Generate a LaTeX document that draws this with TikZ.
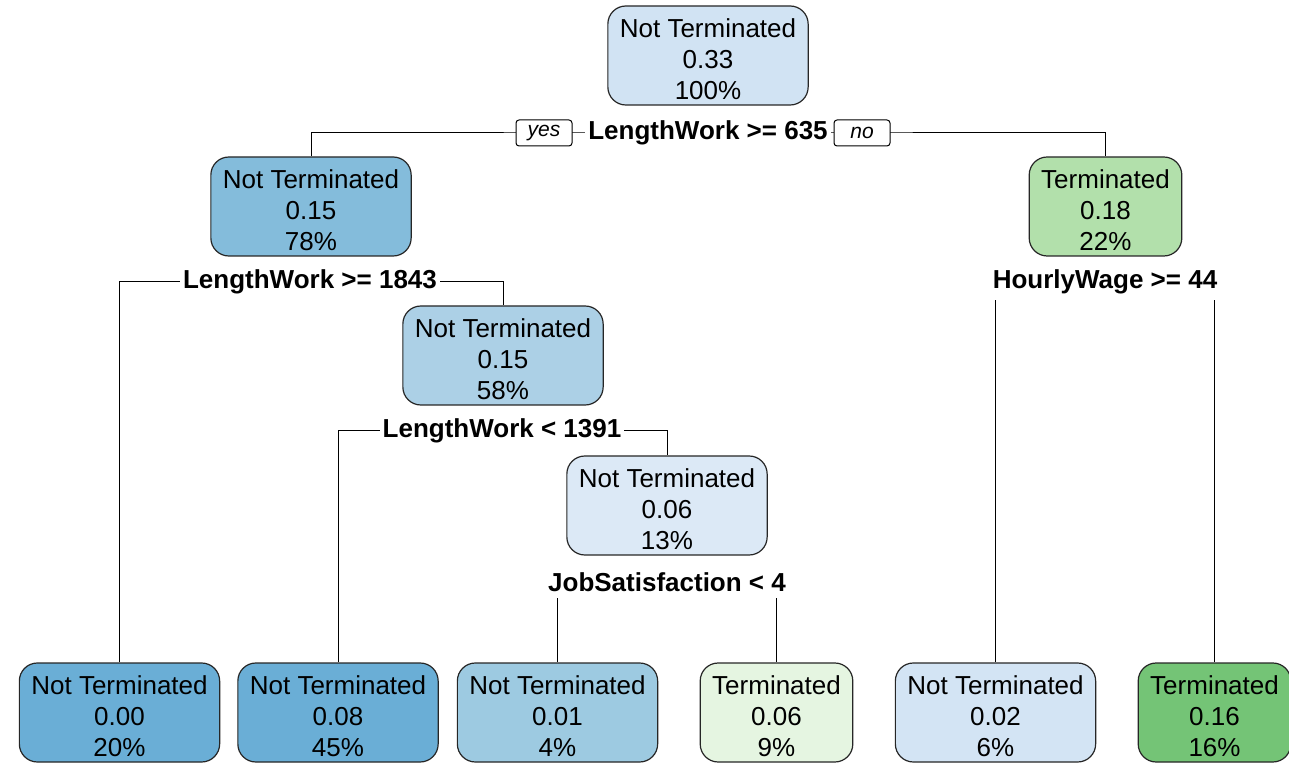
\documentclass[tikz,border=0pt]{standalone}
\usepackage{fontspec}
\setmainfont{Liberation Sans}
\usetikzlibrary{backgrounds}
\definecolor{rootblue}{HTML}{D1E3F3}
\definecolor{midblue}{HTML}{84BCDB}
\definecolor{softblue}{HTML}{ACD0E6}
\definecolor{paleblue}{HTML}{DCE9F6}
\definecolor{deepblue}{HTML}{6AAED6}
\definecolor{skyblue}{HTML}{9DCAE1}
\definecolor{lightblue}{HTML}{D3E4F4}
\definecolor{lightgreen}{HTML}{B2E0AB}
\definecolor{palegreen}{HTML}{E5F5E1}
\definecolor{deepgreen}{HTML}{74C476}

\tikzset{
	tnode/.style={draw=black!85, line width=0.6pt, rounded corners=9pt, align=center,
		inner xsep=6pt, inner ysep=0pt, minimum height=49.5pt, font=\fontsize{13}{15.5}\selectfont,
		execute at begin node={\rule{0pt}{44pt}}},
	splitlab/.style={fill=white, inner xsep=1.5pt, inner ysep=3pt,
		font=\fontsize{13}{15.5}\selectfont\bfseries},
	yesno/.style={draw, line width=0.5pt, rounded corners=1.5pt, fill=white, minimum width=28pt,
		minimum height=13pt, inner sep=0pt, font=\fontsize{10.5}{12}\selectfont\itshape},
}

\begin{document}
\begin{tikzpicture}[x=0.5pt, y=-0.5pt]
	\useasboundingbox (0,0) rectangle (1289,763);
	\clip (0,0) rectangle (1289,763);
	% tree nodes
	\node[tnode, fill=rootblue] (n1) at (708,55.5) {Not Terminated\\0.33\\100\%};
	\node[tnode, fill=midblue] (n2) at (311,206.5) {Not Terminated\\0.15\\78\%};
	\node[tnode, fill=lightgreen] (n3) at (1105.5,206.5) {Terminated\\0.18\\22\%};
	\node[tnode, fill=softblue] (n5) at (503,355.5) {Not Terminated\\0.15\\58\%};
	\node[tnode, fill=paleblue] (n11) at (667,505.5) {Not Terminated\\0.06\\13\%};
	% leaves
	\node[tnode, fill=deepblue] (n4) at (119.5,712.5) {Not Terminated\\0.00\\20\%};
	\node[tnode, fill=deepblue] (n10) at (338,712.5) {Not Terminated\\0.08\\45\%};
	\node[tnode, fill=skyblue] (n22) at (557.5,712.5) {Not Terminated\\0.01\\4\%};
	\node[tnode, fill=palegreen] (n23) at (776.5,712.5) {Terminated\\0.06\\9\%};
	\node[tnode, fill=lightblue] (n6) at (995.5,712.5) {Not Terminated\\0.02\\6\%};
	\node[tnode, fill=deepgreen] (n7) at (1214.5,712.5) {Terminated\\0.16\\16\%};
	% split labels
	\node[splitlab] (s1) at (708,133) {LengthWork >= 635};
	\node[splitlab] (s2) at (310,282) {LengthWork >= 1843};
	\node[splitlab] (s5) at (502,431) {LengthWork < 1391};
	\node[splitlab] (s11) at (667,582) {JobSatisfaction < 4};
	\node[splitlab] (s3) at (1105,282) {HourlyWage >= 44};
	\node[yesno] (yes) at (544,133) {yes};
	\node[yesno] (no) at (862,133) {no};

	\begin{scope}[on background layer]
		\draw[line width=0.5pt] (n2.north) |- (s1.center) -| (n3.north);
		\draw[line width=0.5pt] (n4.north) |- (s2.center) -| (n5.north);
		\draw[line width=0.5pt] (n10.north) |- (s5.center) -| (n11.north);
		\draw[line width=0.5pt] (n22.north) |- (s11.center) -| (n23.north);
		\draw[line width=0.5pt] (n6.north) |- (s3.center) -| (n7.north);
	\end{scope}
\end{tikzpicture}
\end{document}
